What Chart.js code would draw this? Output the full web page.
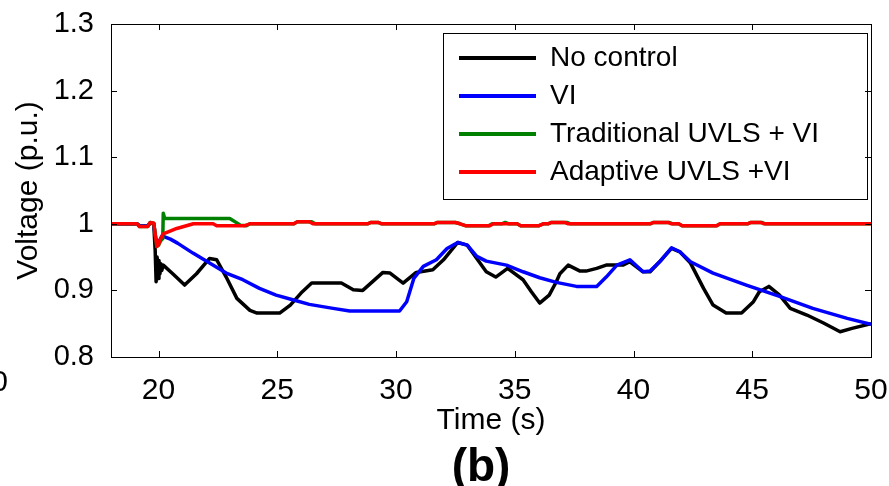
<!DOCTYPE html>
<html>
<head>
<meta charset="utf-8">
<script src="https://cdn.jsdelivr.net/npm/chart.js@4.4.1/dist/chart.umd.min.js"></script>
<style>
  html, body { margin: 0; padding: 0; background: #fff; }
  canvas { display: block; }
</style>
</head>
<body>
<canvas id="voltChart" width="889" height="486"></canvas>
<script>
// axis ticks
const xTicks = [20, 25, 30, 35, 40, 45, 50];
const yTicks = [0.8, 0.9, 1.0, 1.1, 1.2, 1.3];

const seriesNames = ["No control", "VI", "Traditional UVLS + VI", "Adaptive UVLS +VI"];
const seriesColors = ["#000000", "#0000ff", "#008000", "#ff0000"];

// No control
const noCtrlT = [18, 19.1, 19.2, 19.55, 19.65, 19.8, 19.86, 19.9, 19.94, 19.98, 20.02, 20.06, 20.1, 20.14, 20.2,
  20.6, 21.1, 21.6, 22.15, 22.45, 22.85, 23.3, 23.85, 24.15, 25.1, 25.55, 26.0, 26.45, 27.7, 28.2, 28.6, 29.45,
  29.75, 30.3, 30.85, 31.55, 32.0, 32.6, 33.0, 33.4, 33.8, 34.2, 34.7, 35.35, 35.7, 36.05, 36.45, 36.75, 36.9,
  37.25, 37.75, 38.0, 38.45, 38.85, 39.55, 39.85, 40.4, 40.7, 41.1, 41.6, 41.95, 42.4, 42.95, 43.35, 43.9, 44.55,
  45.05, 45.3, 45.7, 46.15, 46.6, 47.3, 48.0, 48.7, 49.2, 50];
const noCtrlV = [1.0, 1.0, 0.997, 0.997, 1.001, 1.0, 0.96, 0.913, 0.95, 0.918, 0.945, 0.925, 0.94, 0.93, 0.938,
  0.925, 0.908, 0.925, 0.948, 0.946, 0.92, 0.888, 0.870, 0.866, 0.866, 0.878, 0.896, 0.911, 0.911, 0.901, 0.900, 0.927,
  0.926, 0.911, 0.927, 0.931, 0.946, 0.972, 0.968, 0.948, 0.928, 0.920, 0.933, 0.916, 0.898, 0.881, 0.893, 0.913, 0.925,
  0.938, 0.929, 0.929, 0.933, 0.938, 0.938, 0.943, 0.928, 0.928, 0.943, 0.963, 0.958, 0.941, 0.903, 0.878, 0.866, 0.866,
  0.883, 0.898, 0.906, 0.893, 0.873, 0.863, 0.851, 0.838, 0.843, 0.850];

// VI
const viT = [18, 19.1, 19.2, 19.55, 19.65, 19.8, 19.88, 19.95, 20.05, 20.15, 20.5, 20.8, 21.45, 22.15, 22.85, 23.55, 24.25,
  24.95, 25.65, 26.35, 27.35, 28.05, 30.15, 30.45, 30.75, 31.15, 31.7, 32.15, 32.6, 33.0, 33.4, 33.8, 34.65, 35.35,
  36.05, 36.75, 37.6, 38.45, 38.85, 39.3, 39.85, 40.4, 40.7, 41.1, 41.6, 41.95, 42.4, 43.35, 44.75, 46.15, 47.55, 49.0, 50];
const viV = [1.0, 1.0, 0.997, 0.997, 1.001, 1.0, 0.978, 0.972, 0.975, 0.982, 0.977, 0.971, 0.956, 0.941, 0.926, 0.916, 0.903,
  0.893, 0.886, 0.879, 0.873, 0.869, 0.869, 0.883, 0.918, 0.936, 0.946, 0.963, 0.972, 0.968, 0.951, 0.944, 0.938, 0.928,
  0.919, 0.912, 0.906, 0.906, 0.920, 0.938, 0.946, 0.928, 0.929, 0.943, 0.964, 0.958, 0.943, 0.926, 0.908, 0.891, 0.873, 0.858, 0.849];

// Traditional UVLS + VI
const tradT = [18, 19.1, 19.2, 19.55, 19.65, 19.8, 19.88, 19.93, 20.0, 20.1, 20.18, 20.2, 20.26, 23.0, 23.45, 23.7,
  23.85, 25.7, 25.85, 26.45, 26.6, 28.8, 28.95, 29.25, 29.4, 31.6, 31.75, 32.5, 32.7, 32.95, 33.9, 34.05, 34.45, 34.6,
  34.75, 35.1, 35.25, 36.0, 36.2, 36.4, 36.55, 37.2, 37.35, 40.7, 40.85, 41.5, 41.65, 41.9, 42.05, 43.5, 43.65, 44.8,
  44.95, 45.4, 45.55, 50];
const tradV = [1.0, 1.0, 0.996, 0.996, 1.002, 1.001, 0.98, 0.966, 0.968, 0.975, 0.978, 1.016, 1.008, 1.008, 0.998, 0.997,
  1.0, 1.0, 1.003, 1.003, 1.0, 1.0, 1.002, 1.002, 1.0, 1.0, 1.002, 1.002, 1.0, 0.997, 0.997, 1.0, 1.0, 1.002,
  1.0, 1.0, 0.997, 0.997, 1.0, 1.0, 1.002, 1.002, 1.0, 1.0, 1.002, 1.002, 1.0, 1.0, 0.997, 0.997, 1.0, 1.0,
  1.002, 1.002, 1.0, 1.0];

// Adaptive UVLS + VI
const adaptT = [18, 19.1, 19.2, 19.55, 19.65, 19.8, 19.88, 19.93, 20.0, 20.06, 20.2, 20.77, 21.47, 22.3, 22.45, 23.6,
  23.85, 25.7, 25.85, 26.35, 26.5, 28.8, 28.95, 29.25, 29.4, 31.6, 31.75, 32.5, 32.7, 32.95, 33.95, 34.1, 35.1, 35.25,
  36.0, 36.2, 36.4, 36.55, 37.1, 37.25, 40.7, 40.85, 41.45, 41.6, 41.9, 42.05, 43.5, 43.65, 44.8, 44.95, 45.35, 45.5, 50];
const adaptV = [1.0, 1.0, 0.996, 0.996, 1.002, 1.001, 0.98, 0.966, 0.968, 0.976, 0.985, 0.993, 1.0, 1.0, 0.997, 0.997,
  1.0, 1.0, 1.003, 1.003, 1.0, 1.0, 1.002, 1.002, 1.0, 1.0, 1.002, 1.002, 1.0, 0.997, 0.997, 1.0, 1.0, 0.997,
  0.997, 1.0, 1.0, 1.002, 1.002, 1.0, 1.0, 1.002, 1.002, 1.0, 1.0, 0.997, 0.997, 1.0, 1.0, 1.002, 1.002, 1.0, 1.0];

const seriesT = [noCtrlT, viT, tradT, adaptT];
const seriesV = [noCtrlV, viV, tradV, adaptV];
// red on top, then green, blue, black
const drawOrder = [3, 2, 1, 0];

Chart.defaults.font.family = '"Liberation Sans", Arial, sans-serif';
Chart.defaults.color = "#000";

function toPoints(t, v) {
    return t.map((x, i) => ({ x: x, y: v[i] }));
}

const legendFrame = { x: 443, y: 33, w: 424, h: 166 };

// MATLAB-like box, inward ticks, legend frame, panel label
const boxAxes = {
    id: "boxAxes",
    beforeDraw(chart) {
        chart.legend.left = legendFrame.x + 6;
        chart.legend.top = legendFrame.y + 1;
    },
    afterDraw(chart) {
        const { ctx, chartArea: a, scales } = chart;
        ctx.save();
        ctx.strokeStyle = "#000";
        ctx.lineWidth = 1;
        ctx.strokeRect(a.left + 0.5, a.top + 0.5, a.right - a.left, a.bottom - a.top);
        ctx.beginPath();
        scales.x.ticks.forEach(t => {
            const px = Math.round(scales.x.getPixelForValue(t.value)) + 0.5;
            ctx.moveTo(px, a.bottom); ctx.lineTo(px, a.bottom - 6);
            ctx.moveTo(px, a.top); ctx.lineTo(px, a.top + 6);
        });
        scales.y.ticks.forEach(t => {
            const py = Math.round(scales.y.getPixelForValue(t.value)) + 0.5;
            ctx.moveTo(a.left, py); ctx.lineTo(a.left + 6, py);
            ctx.moveTo(a.right, py); ctx.lineTo(a.right - 6, py);
        });
        ctx.stroke();
        ctx.strokeRect(legendFrame.x + 0.5, legendFrame.y + 0.5, legendFrame.w, legendFrame.h);

        ctx.fillStyle = "#000";
        ctx.font = 'bold 46px "Liberation Sans", Arial, sans-serif';
        ctx.textAlign = "center";
        ctx.textBaseline = "alphabetic";
        ctx.fillText("(b)", 481, 481);
        // clipped tick label of the neighbouring panel
        ctx.font = '30px "Liberation Sans", Arial, sans-serif';
        ctx.textAlign = "right";
        ctx.textBaseline = "middle";
        ctx.fillText("10", 8, 383);
        ctx.restore();
    }
};

new Chart(document.getElementById("voltChart"), {
    type: "line",
    data: {
        datasets: seriesNames.map((name, i) => ({
            label: name,
            data: toPoints(seriesT[i], seriesV[i]),
            borderColor: seriesColors[i],
            backgroundColor: seriesColors[i],
            pointBorderColor: seriesColors[i],
            borderWidth: 3.5,
            pointBorderWidth: 4,
            pointRadius: 0,
            fill: false,
            order: drawOrder[i]
        }))
    },
    options: {
        responsive: false,
        animation: false,
        events: [],
        layout: { padding: { top: 24, right: 18, left: 0, bottom: 0 } },
        elements: { line: { tension: 0, borderJoinStyle: "round" } },
        plugins: {
            tooltip: { enabled: false },
            legend: {
                position: "chartArea",
                align: "start",
                labels: {
                    usePointStyle: true,
                    pointStyle: "line",
                    pointStyleWidth: 77,
                    padding: 10,
                    color: "#000",
                    font: { size: 28 },
                    sort: (a, b) => a.datasetIndex - b.datasetIndex
                }
            }
        },
        scales: {
            x: {
                type: "linear",
                min: 18,
                max: 50,
                afterBuildTicks: s => { s.ticks = xTicks.map(v => ({ value: v })); },
                afterFit: s => { s.height = 129; s.paddingLeft = 0; s.paddingRight = 0; },
                grid: { display: false },
                border: { display: false },
                ticks: { padding: 8, color: "#000", font: { size: 30 }, maxRotation: 0, autoSkip: false,
                         callback: v => String(v) },
                title: { display: true, text: "Time (s)", color: "#000", font: { size: 30 },
                         padding: { top: 0, bottom: 47 } }
            },
            y: {
                min: 0.8,
                max: 1.3,
                afterBuildTicks: s => { s.ticks = yTicks.map(v => ({ value: v })); },
                afterFit: s => { s.width = 111; s.paddingTop = 0; s.paddingBottom = 0; },
                grid: { display: false },
                border: { display: false },
                ticks: { padding: 9, color: "#000", font: { size: 29 }, autoSkip: false,
                         callback: v => String(Math.round(v * 10) / 10) },
                title: { display: true, text: "Voltage (p.u.)", color: "#000", font: { size: 30 },
                         padding: { top: 11, bottom: 0 } }
            }
        }
    },
    plugins: [boxAxes]
});
</script>
</body>
</html>
